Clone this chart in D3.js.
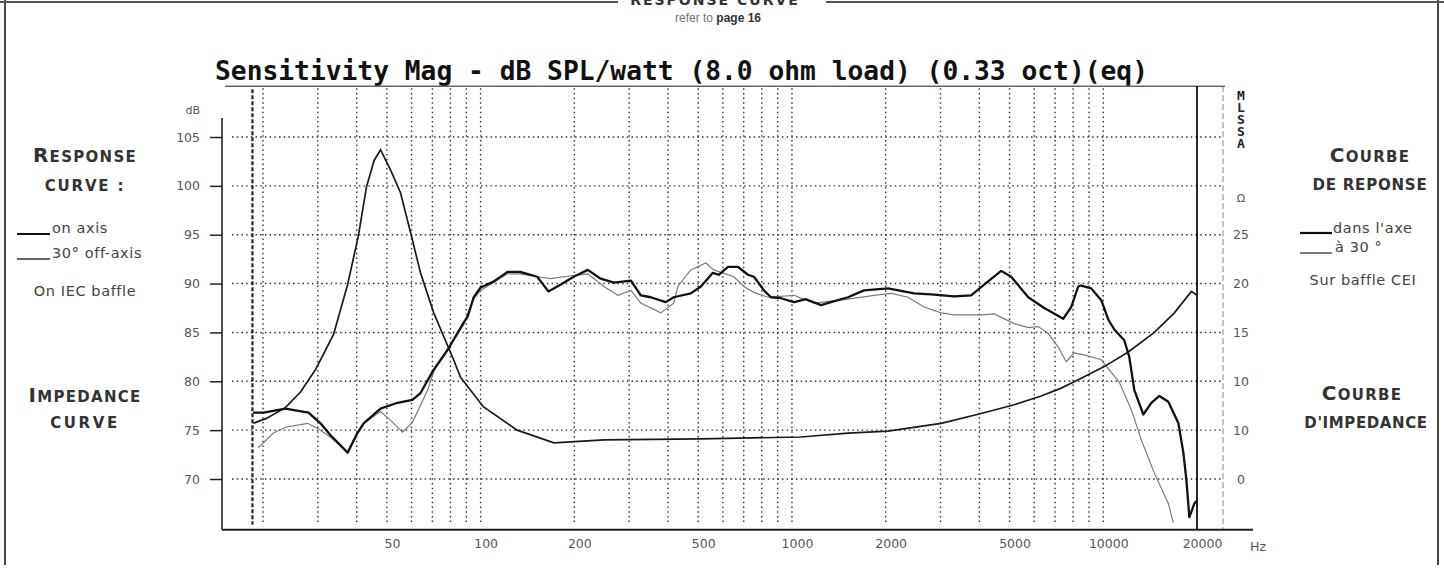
<!DOCTYPE html>
<html>
<head>
<meta charset="utf-8">
<script src="https://cdn.jsdelivr.net/npm/d3@7"></script>
<style>
  body { margin: 0; background: #fff; }
  svg { display: block; }
</style>
</head>
<body>
<script>
// [Hz, dB SPL], on axis (thick black)
const onAxis = [
    [18.6, 76.8], [20.1, 76.8], [23.6, 77.2], [28, 76.8], [30.6, 75.7], [32.9, 74.5],
    [37.4, 72.7], [40.2, 74.7], [42.1, 75.7], [47.7, 77.2], [54.1, 77.8], [60.4, 78.1],
    [64.1, 78.8], [70.7, 81.2], [78.3, 83.2], [88.2, 86.0], [90.8, 86.6], [95, 88.6],
    [100, 89.6], [110, 90.2], [122, 91.2], [134, 91.2], [152, 90.7], [165, 89.2],
    [181, 89.9], [199, 90.7], [221, 91.4], [243, 90.5], [268, 90.1], [304, 90.3],
    [327, 88.8], [352, 88.6], [393, 88.1], [417, 88.6], [473, 89.0], [510, 89.7],
    [557, 91.1], [582, 90.9], [623, 91.7], [671, 91.7], [722, 90.9], [755, 90.7],
    [813, 89.3], [856, 88.6], [922, 88.5], [1015, 88.1], [1109, 88.4], [1240, 87.8],
    [1335, 88.1], [1514, 88.6], [1704, 89.3], [2036, 89.5], [2469, 89.0], [2799, 88.9],
    [3319, 88.7], [3764, 88.8], [4144, 89.9], [4699, 91.3], [5061, 90.7], [5741, 88.6],
    [6461, 87.5], [7436, 86.4], [7889, 87.6], [8308, 89.7], [8496, 89.8], [9150, 89.5],
    [9853, 88.3], [10380, 86.3], [10850, 85.3], [11680, 84.2], [12120, 82.5], [12580, 79.1],
    [13450, 76.6], [14270, 77.8], [15140, 78.5], [16180, 77.9], [17430, 75.7], [18080, 72.7],
    [18490, 69.9], [18900, 66.1], [19620, 67.5], [20000, 67.8]
];

// [Hz, dB SPL] 30 deg off axis (thin grey)
const offAxis = [
    [19.3, 73.2], [21.6, 74.7], [23.6, 75.3], [27.8, 75.7], [29.9, 75.2], [32.9, 74.3],
    [37.4, 72.7], [40.2, 74.7], [42.1, 75.7], [47.7, 76.9], [51.4, 76.0], [56.1, 74.8],
    [60.4, 75.8], [67.6, 79.1], [70.7, 81.0], [78.3, 83.2], [88.2, 85.8], [95, 88.4],
    [100, 89.3], [110, 90.1], [122, 91.0], [134, 91.0], [152, 90.7], [168, 90.5],
    [195, 90.8], [221, 91.0], [249, 89.7], [276, 88.8], [304, 89.3], [327, 88.0],
    [379, 87.0], [417, 88.0], [430, 89.7], [473, 91.4], [529, 92.1], [561, 91.4],
    [651, 90.7], [701, 89.7], [755, 89.1], [837, 88.6], [1015, 88.8], [1177, 88.0],
    [1514, 88.4], [1835, 88.8], [2082, 89.0], [2360, 88.6], [2657, 87.6], [3014, 87.0],
    [3319, 86.8], [4053, 86.8], [4462, 86.9], [5174, 85.9], [5741, 85.5], [6180, 85.6],
    [6655, 84.9], [7167, 83.5], [7603, 82.0], [8067, 82.9], [8686, 82.7], [9853, 82.2],
    [10610, 80.9], [11260, 79.9], [12300, 77.1], [13250, 74.0], [14590, 70.6], [16180, 67.5],
    [16790, 65.5]
];

// [Hz, ohm]
const impedance = [
    [18.6, 5.7], [20.5, 6.2], [23.6, 7.3], [26.4, 8.9], [29.5, 11.2], [33.7, 14.8],
    [37.4, 19.9], [40.5, 24.9], [43.0, 29.9], [45.5, 32.6], [47.7, 33.7], [51.4, 31.6],
    [55.3, 29.3], [59.6, 25.2], [64.1, 21.1], [70.7, 17.0], [81.9, 12.2], [86.2, 10.4],
    [102, 7.4], [131, 5.0], [172, 3.7], [249, 4.0], [510, 4.1], [1069, 4.3], [1514, 4.7],
    [2036, 4.9], [3014, 5.7], [4053, 6.7], [5174, 7.6], [6318, 8.5], [7328, 9.3],
    [8496, 10.3], [10070, 11.5], [12030, 13.0], [14590, 15.0], [16920, 17.0], [19190, 19.2],
    [20000, 18.8]
];

const dbTicks    = [70, 75, 80, 85, 90, 95, 100, 105];
const ohmTicks   = [0, 5, 10, 15, 20, 25];
const ohmLabels  = ["0", "10", "10", "15", "20", "25"];   // yes, the scan prints 10 twice
const gridFreqs  = [20, 30, 40, 50, 60, 70, 80, 90, 100, 200, 300, 400, 500, 600, 700, 800, 900,
                    1000, 2000, 3000, 4000, 5000, 6000, 7000, 8000, 9000, 10000];
const freqLabels = [50, 100, 200, 500, 1000, 2000, 5000, 10000, 20000];
const markerFreq = 18.5;   // heavy dashed line at the left of the plot

const titleText = "Sensitivity Mag - dB SPL/watt (8.0 ohm load) (0.33 oct)(eq)";

function drawChart() {
    const width = 1444;
    const height = 572;
    const sans = "'DejaVu Sans', 'Liberation Sans', sans-serif";

    const x = d3.scaleLog().domain([20, 20000]).range([263, 1197]);
    const y = d3.scaleLinear().domain([70, 105]).range([479, 137]);
    const yOhm = d3.scaleLinear().domain([0, 35]).range([479, 137]);

    const plotTop = y(110.2);
    const plotBottom = y(64.8);
    const axisX = 222;
    const gridLeft = 232;
    const gridRight = 1222;

    const svg = d3.select("body").append("svg")
        .attr("width", width)
        .attr("height", height);

    // [0] page frame
    svg.append("line").attr("x1", 5).attr("x2", 5).attr("y1", 0).attr("y2", 565)
        .attr("stroke", "#444").attr("stroke-width", 2);
    svg.append("line").attr("x1", 1438).attr("x2", 1438).attr("y1", 0).attr("y2", 565)
        .attr("stroke", "#444").attr("stroke-width", 2);
    svg.append("line").attr("x1", 0).attr("x2", 618).attr("y1", 2).attr("y2", 2)
        .attr("stroke", "#555").attr("stroke-width", 2);
    svg.append("line").attr("x1", 826).attr("x2", 1444).attr("y1", 2).attr("y2", 2)
        .attr("stroke", "#555").attr("stroke-width", 2);

    // heading of the page, the scan cuts it in half
    svg.append("text")
        .attr("x", 715).attr("y", 5)
        .attr("text-anchor", "middle")
        .attr("font-family", sans).attr("font-size", 14).attr("font-weight", "bold")
        .attr("letter-spacing", 2).attr("fill", "#333")
        .text("RESPONSE CURVE");

    const refer = svg.append("text")
        .attr("x", 718).attr("y", 22)
        .attr("text-anchor", "middle")
        .attr("font-family", "'Liberation Sans', sans-serif").attr("font-size", 12);
    refer.append("tspan").attr("fill", "#777").text("refer to ");
    refer.append("tspan").attr("fill", "#333").attr("font-weight", "bold").text("page 16");

    // [1] title, old DOS font look
    svg.append("text")
        .attr("x", 215).attr("y", 80)
        .attr("font-family", "'DejaVu Sans Mono', 'Liberation Mono', monospace")
        .attr("font-size", 26).attr("font-weight", "bold")
        .attr("textLength", 933).attr("lengthAdjust", "spacingAndGlyphs")
        .attr("fill", "#111")
        .text(titleText);

    // [2] grid
    const grid = svg.append("g").attr("stroke", "#333").attr("stroke-width", 1.4)
        .attr("stroke-dasharray", "1.5 3.2");

    grid.selectAll(".hgrid")
        .data(dbTicks)
        .enter()
        .append("line")
            .attr("x1", gridLeft).attr("x2", gridRight)
            .attr("y1", d => y(d)).attr("y2", d => y(d));

    grid.selectAll(".vgrid")
        .data(gridFreqs)
        .enter()
        .append("line")
            .attr("x1", d => x(d)).attr("x2", d => x(d))
            .attr("y1", plotTop + 2).attr("y2", plotBottom - 7);

    svg.append("line")
        .attr("x1", x(markerFreq)).attr("x2", x(markerFreq))
        .attr("y1", plotTop + 3).attr("y2", plotBottom - 5)
        .attr("stroke", "#222").attr("stroke-width", 2.2)
        .attr("stroke-dasharray", "4 2");

    // plot top border + right hand edges
    svg.append("line").attr("x1", 225).attr("x2", 1225).attr("y1", plotTop).attr("y2", plotTop)
        .attr("stroke", "#666").attr("stroke-width", 1.6);
    svg.append("line").attr("x1", x(20000)).attr("x2", x(20000))
        .attr("y1", plotTop).attr("y2", plotBottom)
        .attr("stroke", "#111").attr("stroke-width", 1.8);
    svg.append("line").attr("x1", 1223).attr("x2", 1223)
        .attr("y1", plotTop).attr("y2", plotBottom)
        .attr("stroke", "#888").attr("stroke-width", 1).attr("stroke-dasharray", "6 3");

    // [3] axes
    const yAxis = d3.axisLeft(y)
        .tickValues(dbTicks)
        .tickSize(12)
        .tickPadding(10)
        .tickFormat(d => d);

    svg.append("g")
        .attr("transform", `translate(${axisX},0)`)
        .call(yAxis)
        .call(g => g.select(".domain").remove())
        .call(g => g.selectAll("line").attr("stroke", "#222").attr("stroke-width", 1.5))
        .call(g => g.selectAll("text")
            .attr("font-family", sans).attr("font-size", 12.5).attr("fill", "#555"));

    svg.append("line").attr("x1", axisX).attr("x2", axisX).attr("y1", 118).attr("y2", plotBottom)
        .attr("stroke", "#222").attr("stroke-width", 1.6);

    svg.append("text")
        .attr("x", 200).attr("y", 114).attr("text-anchor", "end")
        .attr("font-family", sans).attr("font-size", 11).attr("fill", "#555")
        .text("dB");

    const xAxis = d3.axisBottom(x)
        .tickValues(freqLabels)
        .tickSize(0)
        .tickPadding(8)
        .tickFormat(d => d);

    svg.append("g")
        .attr("transform", `translate(5,${plotBottom + 1})`)
        .call(xAxis)
        .call(g => g.select(".domain").remove())
        .call(g => g.selectAll("text")
            .attr("font-family", sans).attr("font-size", 12.5).attr("fill", "#555"));

    svg.append("line").attr("x1", axisX).attr("x2", 1253).attr("y1", plotBottom).attr("y2", plotBottom)
        .attr("stroke", "#222").attr("stroke-width", 2);

    svg.append("text")
        .attr("x", 1250).attr("y", plotBottom + 21)
        .attr("font-family", sans).attr("font-size", 12.5).attr("fill", "#555")
        .text("Hz");

    // ohm scale on the right
    svg.append("g").selectAll("text")
        .data(ohmTicks)
        .enter()
        .append("text")
            .attr("x", 1241)
            .attr("y", d => yOhm(d))
            .attr("dy", "0.36em")
            .attr("text-anchor", "middle")
            .attr("font-family", sans).attr("font-size", 12.5).attr("fill", "#555")
            .text((d, i) => ohmLabels[i]);

    svg.append("text")
        .attr("x", 1241).attr("y", yOhm(28.8)).attr("dy", "0.36em")
        .attr("text-anchor", "middle")
        .attr("font-family", sans).attr("font-size", 11).attr("fill", "#555")
        .text("Ω");

    const mlssa = svg.append("text")
        .attr("text-anchor", "middle")
        .attr("font-family", "'DejaVu Sans Mono', monospace")
        .attr("font-size", 13).attr("font-weight", "bold").attr("fill", "#222");
    ["M", "L", "S", "S", "A"].forEach((ch, i) => {
        mlssa.append("tspan").attr("x", 1241).attr("y", 100 + i * 12).text(ch);
    });

    // [4] curves
    const dbLine = d3.line().x(d => x(d[0])).y(d => y(d[1]));
    const ohmLine = d3.line().x(d => x(d[0])).y(d => yOhm(d[1]));

    svg.append("path")
        .attr("d", dbLine(offAxis))
        .attr("fill", "none").attr("stroke", "#7a7a7a").attr("stroke-width", 1.2);

    svg.append("path")
        .attr("d", ohmLine(impedance))
        .attr("fill", "none").attr("stroke", "#1a1a1a").attr("stroke-width", 1.7);

    svg.append("path")
        .attr("d", dbLine(onAxis))
        .attr("fill", "none").attr("stroke", "#111").attr("stroke-width", 2.3)
        .attr("stroke-linejoin", "round");

    // [5] side captions
    function caption(cx, cy, parts, opts) {
        const t = svg.append("text")
            .attr("x", cx).attr("y", cy)
            .attr("text-anchor", "middle")
            .attr("font-family", sans)
            .attr("font-weight", opts.bold ? "bold" : "normal")
            .attr("letter-spacing", opts.spacing || 0)
            .attr("fill", opts.color || "#333");
        parts.forEach(p => t.append("tspan").attr("font-size", p[1]).text(p[0]));
        return t;
    }

    const head = { bold: true, spacing: 1.3, color: "#333" };
    caption(85, 162, [["R", 20], ["ESPONSE", 15]], head);
    caption(85, 191, [["CURVE :", 15]], { ...head, spacing: 1.8 });
    caption(85, 402, [["I", 20], ["MPEDANCE", 15]], head);
    caption(85, 428, [["CURVE", 15]], { ...head, spacing: 2.6 });

    caption(1370, 162, [["C", 20], ["OURBE", 15]], head);
    caption(1370, 190, [["DE REPONSE", 15]], { ...head, spacing: 0.8 });
    caption(1362, 400, [["C", 20], ["OURBE", 15]], head);
    caption(1366, 428, [["D'IMPEDANCE", 15]], { ...head, spacing: 0.6 });

    const legendText = { spacing: 0.6, color: "#444" };
    svg.append("line").attr("x1", 17).attr("x2", 50).attr("y1", 234).attr("y2", 234)
        .attr("stroke", "#111").attr("stroke-width", 2.2);
    caption(82, 233, [["on axis", 14.5]], legendText).attr("text-anchor", "start").attr("x", 52);
    svg.append("line").attr("x1", 17).attr("x2", 50).attr("y1", 259).attr("y2", 259)
        .attr("stroke", "#333").attr("stroke-width", 1.3);
    caption(82, 258, [["30° off-axis", 14.5]], legendText).attr("text-anchor", "start").attr("x", 52);
    caption(85, 296, [["On IEC baffle", 14.5]], legendText);

    svg.append("line").attr("x1", 1300).attr("x2", 1332).attr("y1", 233).attr("y2", 233)
        .attr("stroke", "#111").attr("stroke-width", 2.2);
    caption(1333, 233, [["dans l'axe", 14.5]], legendText).attr("text-anchor", "start").attr("x", 1333);
    svg.append("line").attr("x1", 1300).attr("x2", 1332).attr("y1", 253).attr("y2", 253)
        .attr("stroke", "#333").attr("stroke-width", 1.3);
    caption(1333, 252, [["à 30 °", 14.5]], legendText).attr("text-anchor", "start").attr("x", 1335);
    caption(1363, 285, [["Sur baffle CEI", 14.5]], legendText);
}

drawChart();
</script>
</body>
</html>
